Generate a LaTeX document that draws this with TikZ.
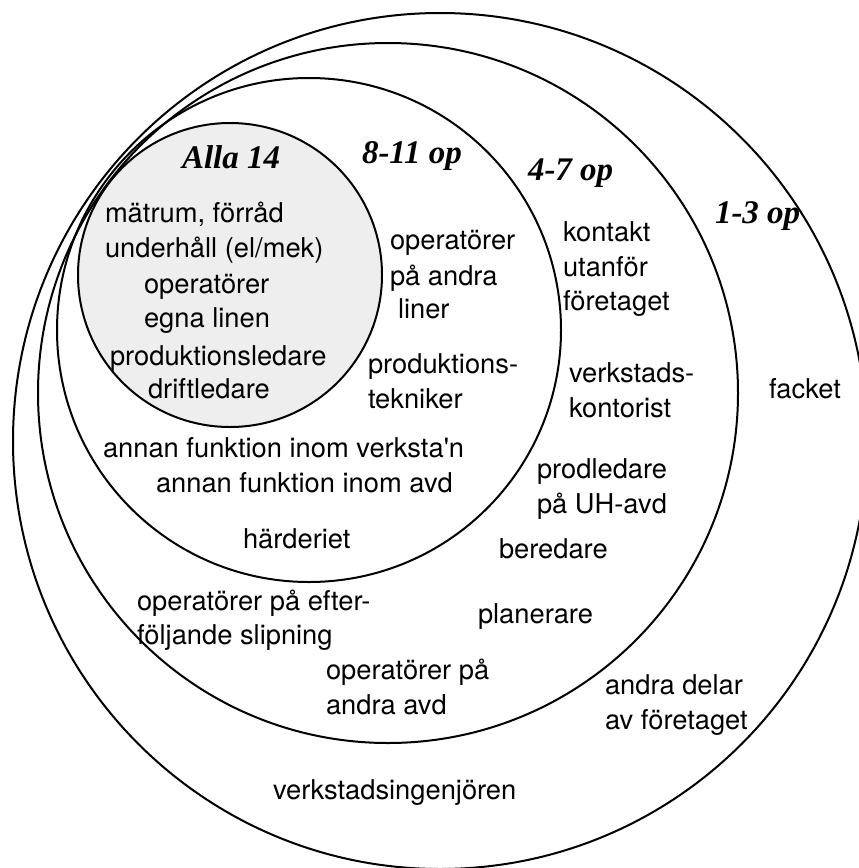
\documentclass[tikz,border=0pt]{standalone}
\usepackage{fontspec}
\newfontfamily\heros{TeX Gyre Heros}
\newfontfamily\labelserif{Liberation Serif}
\definecolor{corefill}{RGB}{238,238,238}
\begin{document}
\begin{tikzpicture}[x=1pt,y=-1pt,
  ring/.style={draw=black,line width=2pt},
  item/.style={anchor=base west,inner sep=0pt,outer sep=0pt,
    font=\heros\fontsize{27.3}{33}\selectfont},
  tier/.style={anchor=base west,inner sep=0pt,outer sep=0pt,
    font=\labelserif\bfseries\itshape\fontsize{33}{39}\selectfont}]
\useasboundingbox (0,0) rectangle (859,868);

% nested contact rings
\fill[corefill] (230,275) circle[radius=152];
\draw[ring] (440,441) ellipse[x radius=427,y radius=428];
\draw[ring] (388,393) circle[radius=350];
\draw[ring] (309,330) circle[radius=252];
\draw[ring] (230,275) circle[radius=152];

% ring headings
\node[tier] (tAll) at (182,168) {Alla 14};
\node[tier] (t811) at (362,163) {8-11 op};
\node[tier] (t47)  at (528,180) {4-7 op};
\node[tier] (t13)  at (715,223) {1-3 op};

% core: all 14
\node[item] (c1) at (105,222) {mätrum, förråd};
\node[item] (c2) at (105,257) {underhåll (el/mek)};
\node[item] (c3) at (144,293) {operatörer};
\node[item] (c4) at (144,327) {egna linen};
\node[item] (c5) at (110,365) {produktionsledare};
\node[item] (c6) at (148,398) {driftledare};

% 8-11 op
\node[item] (a1) at (390,249) {operatörer};
\node[item] (a2) at (390,285) {på andra};
\node[item] (a3) at (398,318) {liner};
\node[item] (a4) at (368,373) {produktions-};
\node[item] (a5) at (368,408) {tekniker};
\node[item] (a6) at (103,457) {annan funktion inom verksta'n};
\node[item] (a7) at (156,492) {annan funktion inom avd};
\node[item] (a8) at (243,548) {härderiet};

% 4-7 op
\node[item] (b1)  at (563,241) {kontakt};
\node[item] (b2)  at (563,276) {utanför};
\node[item] (b3)  at (563,310) {företaget};
\node[item] (b4)  at (569,382) {verkstads-};
\node[item] (b5)  at (569,417) {kontorist};
\node[item] (b6)  at (537,478) {prodledare};
\node[item] (b7)  at (537,513) {på UH-avd};
\node[item] (b8)  at (499,558) {beredare};
\node[item] (b9)  at (478,623) {planerare};
\node[item] (b10) at (137,610) {operatörer på efter-};
\node[item] (b11) at (137,644) {följande slipning};
\node[item] (b12) at (326,679) {operatörer på};
\node[item] (b13) at (326,714) {andra avd};

% 1-3 op
\node[item] (d1) at (769,398) {facket};
\node[item] (d2) at (605,694) {andra delar};
\node[item] (d3) at (605,729) {av företaget};
\node[item] (d4) at (273,799) {verkstadsingenjören};
\end{tikzpicture}
\end{document}
